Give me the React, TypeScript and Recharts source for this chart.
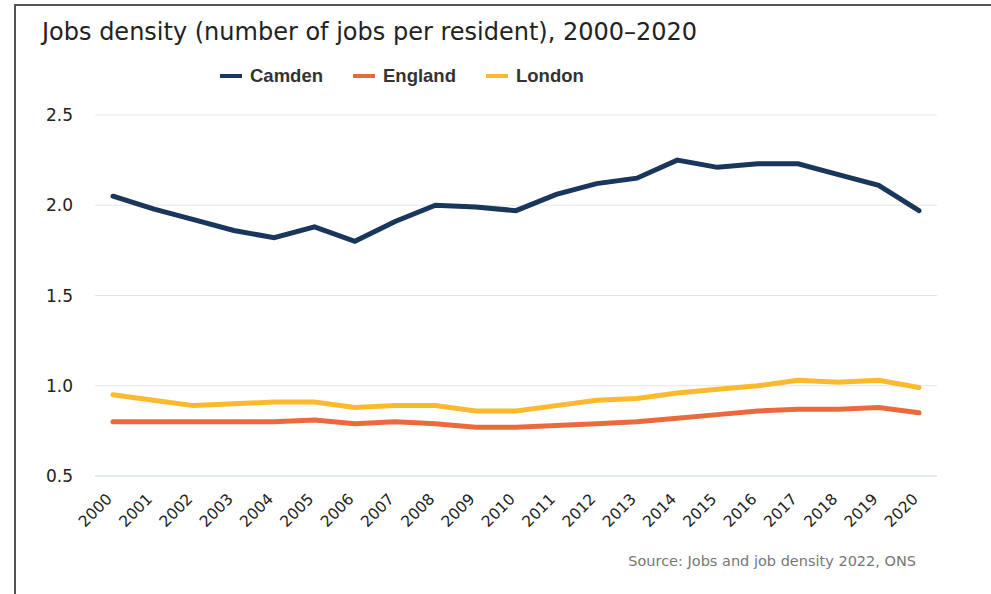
import React from 'react';
import { LineChart, Line, XAxis, YAxis, CartesianGrid } from 'recharts';

const years = [
  '2000', '2001', '2002', '2003', '2004', '2005', '2006', '2007', '2008', '2009', '2010',
  '2011', '2012', '2013', '2014', '2015', '2016', '2017', '2018', '2019', '2020',
];
const camden = [2.05, 1.98, 1.92, 1.86, 1.82, 1.88, 1.8, 1.91, 2.0, 1.99, 1.97, 2.06, 2.12, 2.15, 2.25, 2.21, 2.23, 2.23, 2.17, 2.11, 1.97];
const england = [0.8, 0.8, 0.8, 0.8, 0.8, 0.81, 0.79, 0.8, 0.79, 0.77, 0.77, 0.78, 0.79, 0.8, 0.82, 0.84, 0.86, 0.87, 0.87, 0.88, 0.85];
const london = [0.95, 0.92, 0.89, 0.9, 0.91, 0.91, 0.88, 0.89, 0.89, 0.86, 0.86, 0.89, 0.92, 0.93, 0.96, 0.98, 1.0, 1.03, 1.02, 1.03, 0.99];
const yTicks = [0.5, 1.0, 1.5, 2.0, 2.5];

const title = 'Jobs density (number of jobs per resident), 2000\u20132020';
const source = 'Source: Jobs and job density 2022, ONS';

const series = [
  { key: 'Camden', color: '#19365c' },
  { key: 'England', color: '#eb6a3d' },
  { key: 'London', color: '#fbb92e' },
];

const data = years.map((year, i) => ({
  year,
  Camden: camden[i],
  England: england[i],
  London: london[i],
}));

const font = '"DejaVu Sans", Verdana, sans-serif';

// legend sits above the plot, drawn as plain html
const ChartLegend = () => (
  <div style={{ position: 'absolute', left: 220, top: 65, display: 'flex', fontFamily: 'Liberation Sans, Arial, sans-serif', fontWeight: 'bold', fontSize: 18.5, color: '#333' }}>
    {series.map((s) => (
      <div key={s.key} style={{ display: 'flex', alignItems: 'center', marginRight: 30 }}>
        <span style={{ display: 'inline-block', width: 22, height: 4, background: s.color, marginRight: 8 }} />
        <span>{s.key}</span>
      </div>
    ))}
  </div>
);

const XTick = (props: any) => {
  const { x, y, payload } = props;
  return (
    <g transform={`translate(${x},${y + 16})`}>
      <text x={0} y={0} textAnchor="end" transform="rotate(-45)" fill="#222" fontSize={15.5} fontFamily={font}>
        {payload.value}
      </text>
    </g>
  );
};

export default function App() {
  return (
    <div style={{ position: 'fixed', left: 0, top: 0, width: 991, height: 594, background: '#fff', overflow: 'hidden' }}>
      <div style={{ position: 'absolute', left: 14, top: 4, right: -10, bottom: -10, borderTop: '2px solid #555', borderLeft: '2px solid #555' }} />
      <div style={{ position: 'absolute', left: 42, top: 18, fontFamily: font, fontSize: 24, color: '#222', whiteSpace: 'nowrap' }}>
        {title}
      </div>
      <div style={{ position: 'absolute', right: 75, top: 553, fontFamily: font, fontSize: 14.5, color: '#777', whiteSpace: 'nowrap' }}>
        {source}
      </div>
      <ChartLegend />
      <div style={{ position: 'absolute', left: 0, top: 0 }}>
        <LineChart width={991} height={594} data={data} margin={{ top: 115, right: 54, bottom: 58, left: 0 }}>
          <CartesianGrid vertical={false} stroke="#e6e6e6" />
          <XAxis
            dataKey="year"
            interval={0}
            tickLine={false}
            axisLine={{ stroke: '#dbe4f3' }}
            padding={{ left: 18, right: 18 }}
            height={60}
            tick={<XTick />}
          />
          <YAxis
            domain={[0.5, 2.5]}
            ticks={yTicks}
            width={95}
            axisLine={false}
            tickLine={false}
            tickFormatter={(v: number) => v.toFixed(1)}
            tick={{ fill: '#222', fontSize: 17, fontFamily: font, dx: -14 }}
          />
          {series.map((s) => (
            <Line
              key={s.key}
              dataKey={s.key}
              stroke={s.color}
              strokeWidth={5}
              dot={false}
              activeDot={false}
              strokeLinecap="round"
              isAnimationActive={false}
            />
          ))}
        </LineChart>
      </div>
    </div>
  );
}
